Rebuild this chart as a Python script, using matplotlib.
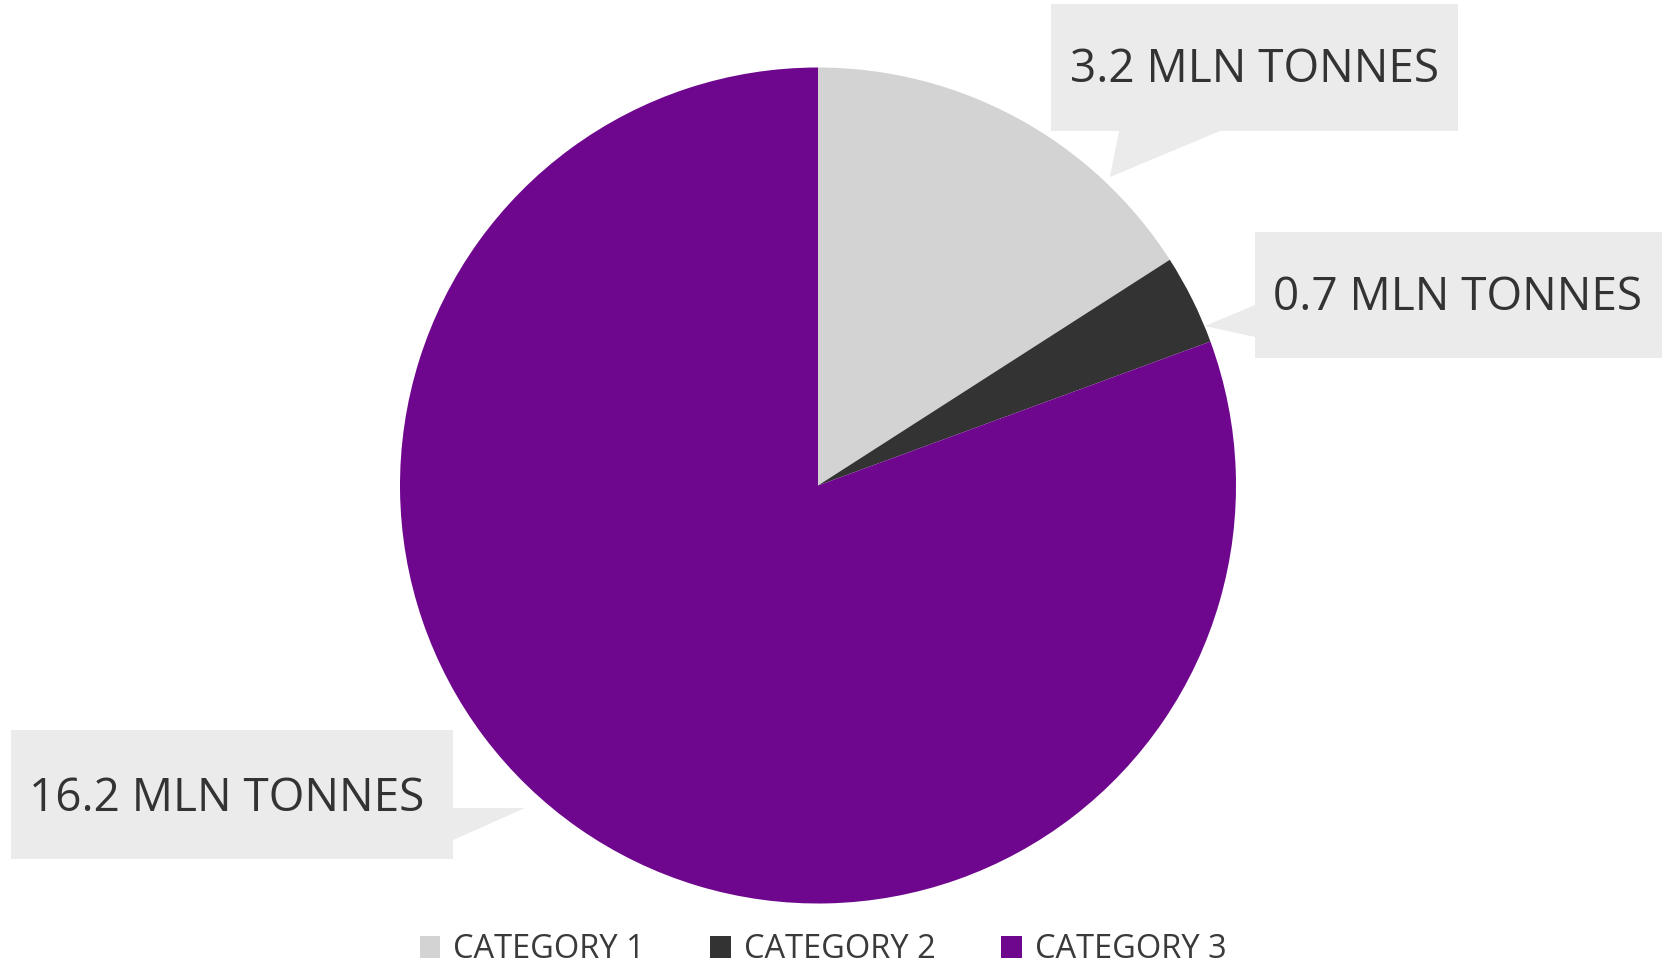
import matplotlib.pyplot as plt
from matplotlib.patches import Polygon

plt.rcParams['font.family'] = ['Open Sans', 'DejaVu Sans']

categories = ['CATEGORY 1', 'CATEGORY 2', 'CATEGORY 3']
tonnes = [3.2, 0.7, 16.2]
colors = ['#D3D3D3', '#333333', '#6E078E']

W, H = 1673, 966

def flip(pts):
    # pixel coords (y down) -> axes data coords (y up)
    return [(x, H - y) for x, y in pts]

fig = plt.figure(figsize=(W / 100, H / 100), dpi=100)
ax = fig.add_axes([0, 0, 1, 1])
ax.set_xlim(0, W)
ax.set_ylim(0, H)
ax.set_aspect('equal')
ax.axis('off')

wedges, _ = ax.pie(tonnes, colors=colors, startangle=90, counterclock=False,
                   center=(818, H - 485.5), radius=418,
                   wedgeprops=dict(linewidth=0))
ax.set_xlim(0, W)
ax.set_ylim(0, H)

# callout boxes: box rect (x0, y0, x1, y1), pointer base points + tip
callouts = [
    dict(box=(1051, 4, 1458, 131), ptr=[(1220, 131), (1110, 177), (1119, 131)],
         text_xy=(1070, 70)),
    dict(box=(1255, 232, 1662, 358), ptr=[(1255, 337), (1205, 326), (1255, 305)],
         text_xy=(1273, 298)),
    dict(box=(11, 730, 453, 859), ptr=[(453, 808), (525, 808), (453, 840)],
         text_xy=(29, 799)),
]

for c, v in zip(callouts, tonnes):
    x0, y0, x1, y1 = c['box']
    # walk the box outline, splicing the pointer in where it sits
    if c['ptr'][0][1] == y1 and c['ptr'][2][1] == y1:
        pts = [(x0, y0), (x1, y0), (x1, y1)] + c['ptr'] + [(x0, y1)]
    elif c['ptr'][0][0] == x0:
        pts = [(x0, y0), (x1, y0), (x1, y1), (x0, y1)] + c['ptr']
    else:
        pts = [(x0, y0), (x1, y0), c['ptr'][0], c['ptr'][1], c['ptr'][2], (x1, y1), (x0, y1)]
    ax.add_patch(Polygon(flip(pts), closed=True, facecolor='#EBEBEB',
                         edgecolor='none', zorder=3))
    tx, ty = c['text_xy']
    ax.text(tx, H - ty, f'{v} MLN TONNES', fontsize=33, color='#333333',
            ha='left', va='center', zorder=4)

ax.legend(wedges, categories, loc='center', bbox_to_anchor=(823, H - 950),
          bbox_transform=ax.transData, ncol=3, frameon=False, fontsize=23.5,
          handlelength=0.63, handleheight=0.63, handletextpad=0.4,
          columnspacing=2.0, labelcolor='#3A3A3A')

fig.savefig('out.png', dpi=100)
